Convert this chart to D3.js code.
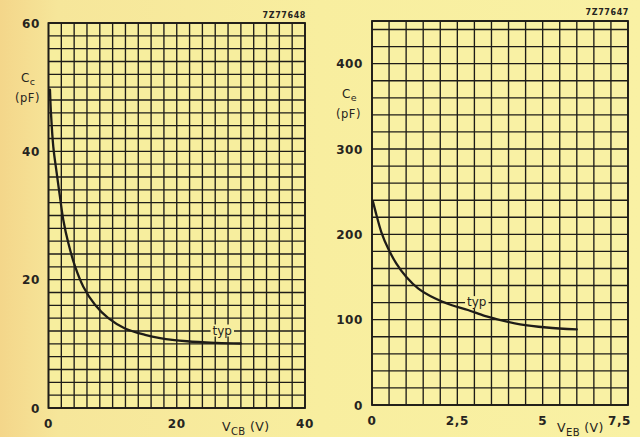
<!DOCTYPE html>
<html><head><meta charset="utf-8">
<script src="https://cdn.jsdelivr.net/npm/d3@7"></script>
<style>
html,body{margin:0;padding:0;background:#f8ec9e;}
svg{display:block;}
text{font-family:"DejaVu Sans",sans-serif;fill:#262420;}
</style></head>
<body>
<svg id="c" width="640" height="437"></svg>
<script>
// Left panel: collector capacitance vs V_CB
const vcb = [0.23, 0.39, 0.75, 1.28, 1.79, 2.31, 3.09, 4.13, 5.43, 7.25, 9.33, 11.93, 15.05, 17.4, 21.6, 26.2, 30];
const cc  = [49.6, 45.9, 40.7, 36.6, 32.9, 29.3, 25.7, 22.1, 18.9, 16.1, 14.0, 12.4, 11.4, 10.9, 10.4, 10.15, 10.05];
const leftXTicks = [0, 20, 40];
const leftXTickLabels = ["0", "20", "40"];
const leftYTicks = [0, 20, 40, 60];

// Right panel: emitter capacitance vs V_EB
const veb = [0.03, 0.13, 0.27, 0.47, 0.71, 1.0, 1.35, 1.84, 2.32, 2.81, 3.3, 3.6, 4.34, 5.12, 6.0];
const ce  = [238, 222.7, 203, 183.6, 166, 150.3, 136.7, 125, 117.2, 111.3, 104.5, 101.2, 94.5, 90.8, 88.6];
const rightXTicks = [0, 2.5, 5, 7.5];
const rightXTickLabels = ["0", "2,5", "5", "7,5"];
const rightYTicks = [0, 100, 200, 300, 400];

const svg = d3.select("#c");
const defs = svg.append("defs");
const g = defs.append("linearGradient").attr("id","bg").attr("x1","0").attr("x2","1").attr("y1","0").attr("y2","0");
g.append("stop").attr("offset","0").attr("stop-color","#f4d68a");
g.append("stop").attr("offset","0.09").attr("stop-color","#f6e69a");
g.append("stop").attr("offset","0.5").attr("stop-color","#f8ee9f");
g.append("stop").attr("offset","1").attr("stop-color","#f9f1a4");
svg.append("rect").attr("width",640).attr("height",437).attr("fill","url(#bg)");

const ink = "#1e1c18";

function panel(opt){
  const x = d3.scaleLinear().domain(opt.xd).range(opt.xr);
  const y = d3.scaleLinear().domain(opt.yd).range(opt.yr);
  const G = svg.append("g");
  G.append("rect").attr("x",opt.xr[0]).attr("y",opt.yr[1])
    .attr("width",opt.xr[1]-opt.xr[0]).attr("height",opt.yr[0]-opt.yr[1])
    .attr("fill",opt.plotFill);
  // grid
  const xs = d3.range(opt.xd[0], opt.xd[1]+1e-9, opt.xstep);
  const ys = d3.range(opt.yd[0], opt.yd[1]+1e-9, opt.ystep);
  if (ys[ys.length-1] < opt.yd[1]-1e-9) ys.push(opt.yd[1]);
  G.selectAll("line.v").data(xs).join("line")
    .attr("x1",d=>x(d)).attr("x2",d=>x(d)).attr("y1",y(opt.yd[0])).attr("y2",y(opt.yd[1]))
    .attr("stroke",ink).attr("stroke-width",1.35);
  G.selectAll("line.h").data(ys).join("line")
    .attr("y1",d=>y(d)).attr("y2",d=>y(d)).attr("x1",x(opt.xd[0])).attr("x2",x(opt.xd[1]))
    .attr("stroke",ink).attr("stroke-width",1.35);
  G.append("rect").attr("x",opt.xr[0]).attr("y",opt.yr[1])
    .attr("width",opt.xr[1]-opt.xr[0]).attr("height",opt.yr[0]-opt.yr[1])
    .attr("fill","none").attr("stroke",ink).attr("stroke-width",1.8);
  // typ label with background gap
  const tl = G.append("text").attr("x",x(opt.typ[0])).attr("y",y(opt.typ[1])+3.5)
    .attr("text-anchor","middle").attr("font-size",12).text("typ");
  const bb = tl.node().getBBox();
  G.insert("rect", "text").attr("x",bb.x-2).attr("y",bb.y+1).attr("width",bb.width+4).attr("height",bb.height-2)
    .attr("fill",opt.plotFill);
  tl.raise();
  // curve
  const line = d3.line().x(d=>x(d[0])).y(d=>y(d[1])).curve(d3.curveCatmullRom.alpha(0.5));
  G.append("path").datum(opt.xv.map((v,i)=>[v,opt.yv[i]]))
    .attr("d",line).attr("fill","none").attr("stroke",ink).attr("stroke-width",2.3)
    .attr("stroke-linecap","round");
  // y tick labels
  G.selectAll("text.yt").data(opt.yt).join("text")
    .attr("x",opt.yLabelX).attr("y",d=>y(d)+4.5).attr("text-anchor","end")
    .attr("font-size",12).attr("font-weight","bold").attr("letter-spacing",0.6).text(d=>d);
  // x tick labels
  G.selectAll("text.xt").data(opt.xt).join("text")
    .attr("x",(d,i)=> i===opt.xt.length-1 && opt.lastEnd ? x(d)+3 : x(d))
    .attr("y",opt.xLabelY)
    .attr("text-anchor",(d,i)=> i===opt.xt.length-1 && opt.lastEnd ? "end" : "middle")
    .attr("font-size",12).attr("font-weight","bold").attr("letter-spacing",0.6)
    .text((d,i)=>opt.xtl[i]);
  return {x,y,G};
}

const L = panel({xd:[0,40], xr:[48.5,305], yd:[0,60], yr:[408,23], xstep:2, ystep:2,
  xv:vcb, yv:cc, yt:leftYTicks, xt:leftXTicks, xtl:leftXTickLabels, yLabelX:40, xLabelY:428,
  typ:[27.1,12], plotFill:"#f7ee9e"});
const R = panel({xd:[0,7.5], xr:[372,628], yd:[0,450], yr:[405,21], xstep:0.5, ystep:20,
  xv:veb, yv:ce, yt:rightYTicks, xt:rightXTicks, xtl:rightXTickLabels, yLabelX:363, xLabelY:425,
  typ:[3.07,120], plotFill:"#f9f1a4", lastEnd:true});

// axis titles
function title(x0,y0,main,sub,size){
  const t = svg.append("text").attr("x",x0).attr("y",y0).attr("font-size",size).attr("letter-spacing",0.4);
  t.append("tspan").text(main);
  t.append("tspan").attr("dy",4).attr("font-size",size*0.8).text(sub);
  t.append("tspan").attr("dy",-4).text(" (V)");
}
title(222,431,"V","CB",12.5);
title(557,432,"V","EB",12.5);

function ylab(x0,y0,sub){
  const t = svg.append("text").attr("x",x0).attr("y",y0).attr("font-size",12).attr("letter-spacing",0.3);
  t.append("tspan").text("C");
  t.append("tspan").attr("dy",3).attr("font-size",9.5).text(sub);
  svg.append("text").attr("x",x0-6).attr("y",y0+20).attr("font-size",11.5).attr("letter-spacing",0.5).text("(pF)");
}
ylab(21,82,"c");
ylab(342,98,"e");

// drawing codes
svg.append("text").attr("x",306).attr("y",18).attr("text-anchor","end").attr("font-size",8)
  .attr("font-weight","bold").attr("letter-spacing",0.6).text("7Z77648");
svg.append("text").attr("x",629).attr("y",15).attr("text-anchor","end").attr("font-size",8)
  .attr("font-weight","bold").attr("letter-spacing",0.6).text("7Z77647");
</script>
</body></html>
